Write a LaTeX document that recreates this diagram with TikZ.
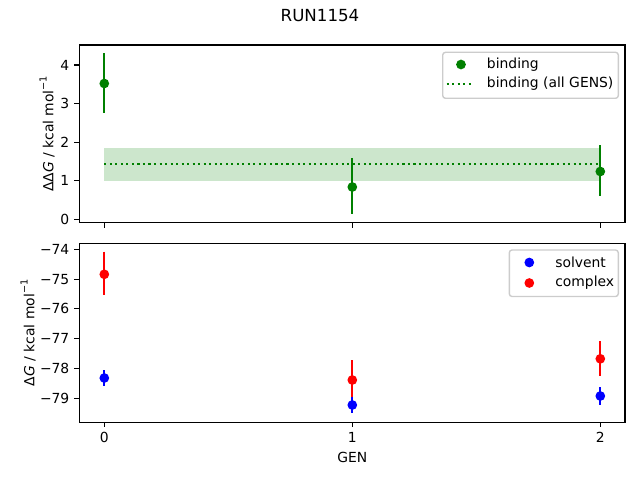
\documentclass[tikz,border=0pt]{standalone}
\usepackage{fontspec}
\setmainfont{DejaVu Sans}
\definecolor{mplgreen}{RGB}{0,128,0}
\definecolor{mplblue}{RGB}{0,0,255}
\definecolor{mplred}{RGB}{255,0,0}
\definecolor{legedge}{RGB}{204,204,204}
\newcommand{\supm}{\raisebox{0.9ex}{\fontsize{7}{7}\selectfont −1}}
\begin{document}
\begin{tikzpicture}[x=0.72pt,y=-0.72pt,
  spine/.style={line width=0.8pt, black},
  tickmark/.style={line width=0.8pt, black},
  errbar/.style={line width=1.5pt},
  dot/.style={circle, inner sep=0pt, minimum size=7pt, draw=none},
  ticklabel/.style={font=\fontsize{10}{12}\selectfont, inner sep=0pt},
  labeltext/.style={font=\fontsize{10}{12}\selectfont, inner sep=0pt},
  legbox/.style={draw=legedge, line width=1pt, fill=white, fill opacity=0.8, rounded corners=2pt},
  dotline/.style={mplgreen, line width=1.5pt, dash pattern=on 1.5pt off 2.475pt}]
\useasboundingbox (0,0) rectangle (640,480);

% title
\node[font=\fontsize{12}{14}\selectfont, inner sep=0pt] (title) at (320,16) {RUN1154};

% ===== top axes =====
\fill[mplgreen, fill opacity=0.2] (104.3,148.3) rectangle (600.3,180.5);
\coordinate (dl0) at (104.3,164);
\coordinate (dl1) at (600.3,164);
\draw[dotline] (dl0) -- (dl1);

% error bars (binding)
\coordinate (b0t) at (104.3,53.4);  \coordinate (b0b) at (104.3,113.2);
\coordinate (b1t) at (352.3,158.3); \coordinate (b1b) at (352.3,214);
\coordinate (b2t) at (600.3,145);   \coordinate (b2b) at (600.3,196);
\draw[errbar, mplgreen] (b0t) -- (b0b);
\draw[errbar, mplgreen] (b1t) -- (b1b);
\draw[errbar, mplgreen] (b2t) -- (b2b);
\node[dot, fill=mplgreen] (b0) at (104.3,83.5) {};
\node[dot, fill=mplgreen] (b1) at (352.3,187) {};
\node[dot, fill=mplgreen] (b2) at (600.3,171.5) {};

\draw[spine] (79.3,45) rectangle (625,222.7);
\foreach \v in {0,...,4} {
  \draw[tickmark] (79.3,{219.3-38.575*\v}) -- ++(-4.86,0);
  \node[ticklabel, anchor=east] at (69.6,{219.3-38.575*\v}) {\v};
}
\foreach \g in {0,1,2} {
  \draw[tickmark] ({104.3+248*\g},222.7) -- ++(0,4.86);
}
\node[labeltext, rotate=90, anchor=south] (ylab1) at (55,133.9) {ΔΔ\textit{G} / kcal mol\supm};

% legend top
\draw[legbox] (442.7,52.3) rectangle (618.3,98.3);
\node[dot, fill=mplgreen] (lgb) at (461,64.5) {};
\node[labeltext, anchor=west] (lgbt) at (486.7,64.5) {binding};
\coordinate (lgl0) at (446.7,84);
\coordinate (lgl1) at (474.3,84);
\draw[dotline] (lgl0) -- (lgl1);
\node[labeltext, anchor=west] (lglt) at (486.7,84) {binding (all GENS)};

% ===== bottom axes =====
\coordinate (s0t) at (104.3,370);   \coordinate (s0b) at (104.3,385.7);
\coordinate (s1t) at (352.3,396.7); \coordinate (s1b) at (352.3,413.3);
\coordinate (s2t) at (600.3,387.3); \coordinate (s2b) at (600.3,404.7);
\coordinate (c0t) at (104.3,251.7); \coordinate (c0b) at (104.3,295);
\coordinate (c1t) at (352.3,360);   \coordinate (c1b) at (352.3,400);
\coordinate (c2t) at (600.3,341);   \coordinate (c2b) at (600.3,376);
\draw[errbar, mplred] (c0t) -- (c0b);
\draw[errbar, mplred] (c1t) -- (c1b);
\draw[errbar, mplred] (c2t) -- (c2b);
\node[dot, fill=mplred] (c0) at (104.3,274.3) {};
\node[dot, fill=mplred] (c1) at (352.3,380) {};
\node[dot, fill=mplred] (c2) at (600.3,358.8) {};
\draw[errbar, mplblue] (s0t) -- (s0b);
\draw[errbar, mplblue] (s1t) -- (s1b);
\draw[errbar, mplblue] (s2t) -- (s2b);
\node[dot, fill=mplblue] (s0) at (104.3,378) {};
\node[dot, fill=mplblue] (s1) at (352.3,405) {};
\node[dot, fill=mplblue] (s2) at (600.3,396) {};

\draw[spine] (79.3,243.3) rectangle (625,422.3);
\foreach \v in {74,...,79} {
  \draw[tickmark] (79.3,{249.3+29.8*(\v-74)}) -- ++(-4.86,0);
  \node[ticklabel, anchor=east] at (69.6,{249.3+29.8*(\v-74)}) {−\v};
}
\foreach \g in {0,1,2} {
  \draw[tickmark] ({104.3+248*\g},422.3) -- ++(0,4.86);
  \node[ticklabel] at ({104.3+248*\g},437.3) {\g};
}
\node[labeltext] (xlab) at (352.3,457.3) {GEN};
\node[labeltext, rotate=90, anchor=south] (ylab2) at (36,332.8) {Δ\textit{G} / kcal mol\supm};

% legend bottom
\draw[legbox] (509.3,250) rectangle (618.3,296.5);
\node[dot, fill=mplblue] (lgs) at (529.3,262.5) {};
\node[labeltext, anchor=west] (lgst) at (555,262.5) {solvent};
\node[dot, fill=mplred] (lgc) at (529.3,283) {};
\node[labeltext, anchor=west] (lgct) at (555,283) {complex};
\end{tikzpicture}
\end{document}
